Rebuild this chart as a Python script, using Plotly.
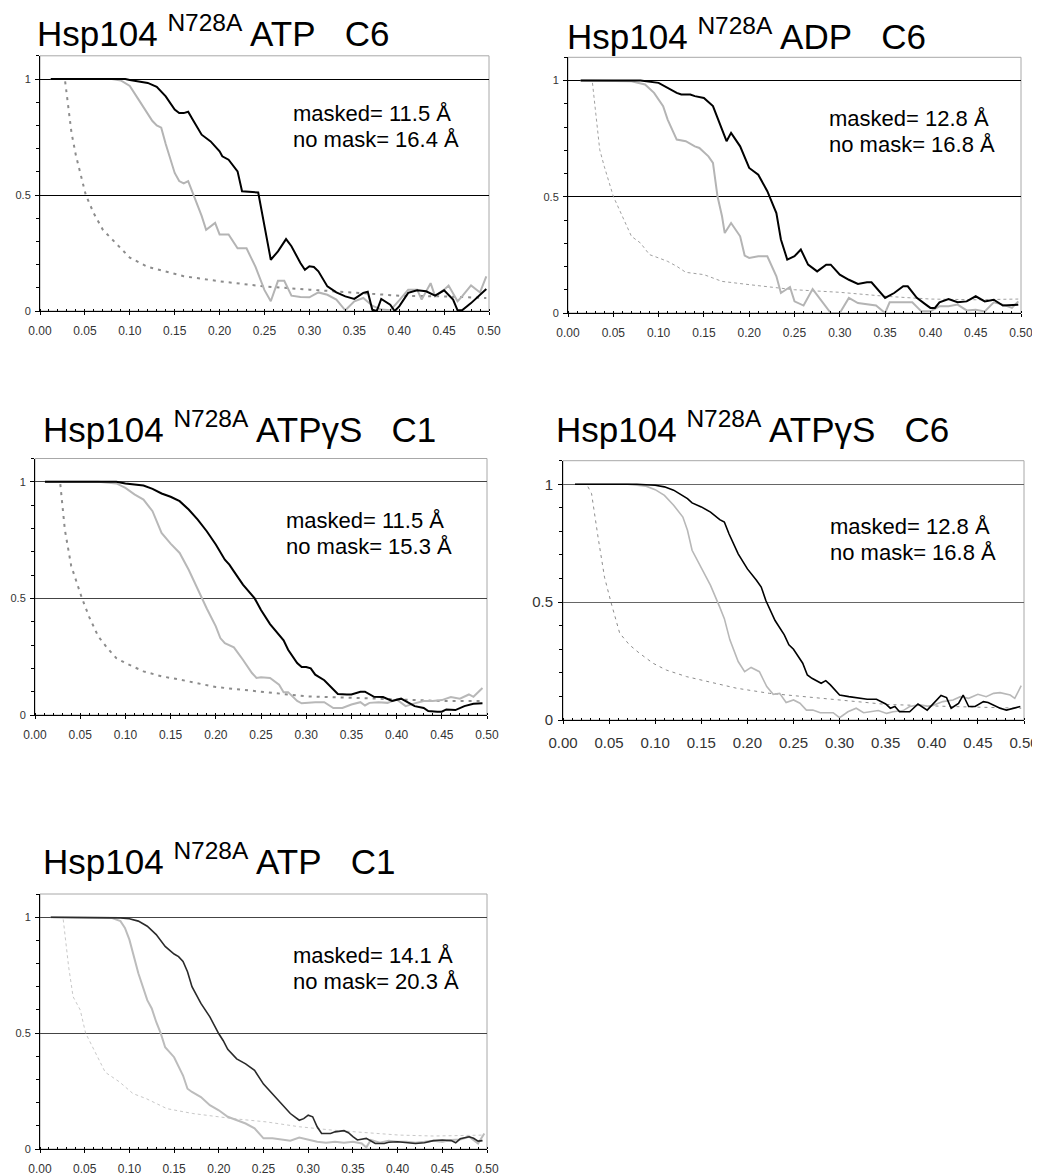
import plotly.graph_objects as go

# page has an 8px body margin: figure is placed at (8, 8) inside the 1040x1175 window
OFF = 8
W, H = 1040 - OFF, 1175 - OFF

# ---------------- data ----------------
titles = ["Hsp104 <sup>N728A</sup> ATP\u00a0\u00a0\u00a0C6",
          "Hsp104 <sup>N728A</sup> ADP\u00a0\u00a0\u00a0C6",
          "Hsp104 <sup>N728A</sup> ATP\u03b3S\u00a0\u00a0\u00a0C1",
          "Hsp104 <sup>N728A</sup> ATP\u03b3S\u00a0\u00a0\u00a0C6",
          "Hsp104 <sup>N728A</sup> ATP\u00a0\u00a0\u00a0C1"]
masked_res = ["11.5", "12.8", "11.5", "12.8", "14.1"]
nomask_res = ["16.4", "16.8", "15.3", "16.8", "20.3"]
x_ticks = [0.00, 0.05, 0.10, 0.15, 0.20, 0.25, 0.30, 0.35, 0.40, 0.45, 0.50]
y_ticks = [0, 0.5, 1]

# Panel 1: ATP C6
p1_black_x = [0.012,0.095,0.10,0.11,0.12,0.13,0.14,0.15,0.155,0.16,0.165,0.17,0.18,0.19,0.20,0.203,0.21,0.22,0.225,0.243,0.257,0.265,0.274,0.28,0.29,0.295,0.30,0.305,0.31,0.32,0.33,0.34,0.35,0.36,0.365,0.37,0.375,0.38,0.39,0.395,0.40,0.41,0.42,0.43,0.44,0.45,0.46,0.465,0.47,0.48,0.49,0.497]
p1_black_y = [1.0,1.0,0.996,0.99,0.983,0.966,0.925,0.868,0.853,0.853,0.859,0.825,0.76,0.731,0.688,0.667,0.652,0.602,0.516,0.511,0.221,0.257,0.31,0.279,0.207,0.178,0.193,0.19,0.171,0.106,0.08,0.063,0.052,0.078,0.083,0.006,0.0,0.052,0.027,0.0,0.02,0.078,0.089,0.085,0.066,0.089,0.049,0.003,0.003,0.034,0.07,0.095]
p1_grey_x = [0.012,0.08,0.09,0.10,0.11,0.12,0.125,0.13,0.135,0.14,0.145,0.15,0.155,0.16,0.165,0.17,0.175,0.18,0.185,0.195,0.20,0.21,0.22,0.23,0.235,0.24,0.25,0.257,0.265,0.272,0.28,0.29,0.30,0.31,0.32,0.33,0.34,0.35,0.36,0.37,0.38,0.39,0.40,0.41,0.42,0.425,0.435,0.44,0.45,0.455,0.465,0.47,0.48,0.49,0.497]
p1_grey_y = [1.0,1.0,0.994,0.97,0.91,0.853,0.82,0.80,0.79,0.72,0.66,0.595,0.56,0.55,0.56,0.51,0.46,0.41,0.35,0.38,0.33,0.33,0.27,0.27,0.23,0.19,0.09,0.042,0.13,0.13,0.066,0.06,0.059,0.08,0.07,0.049,0.003,0.042,0.056,0.023,0.006,0.003,0.046,0.092,0.092,0.049,0.12,0.063,0.092,0.11,0.042,0.063,0.11,0.08,0.149]
p1_thr_x = [0.028,0.035,0.04,0.051,0.06,0.07,0.08,0.09,0.10,0.12,0.14,0.16,0.20,0.25,0.30,0.35,0.40,0.45,0.497]
p1_thr_y = [0.99,0.77,0.67,0.5,0.42,0.35,0.31,0.27,0.23,0.19,0.17,0.15,0.128,0.106,0.092,0.08,0.066,0.063,0.056]

# Panel 2: ADP C6
p2_black_x = [0.014,0.08,0.10,0.11,0.12,0.125,0.135,0.14,0.15,0.16,0.165,0.175,0.18,0.19,0.20,0.21,0.22,0.225,0.23,0.235,0.242,0.25,0.257,0.265,0.275,0.285,0.29,0.30,0.31,0.32,0.33,0.335,0.345,0.35,0.36,0.37,0.375,0.385,0.395,0.40,0.405,0.41,0.42,0.43,0.44,0.45,0.46,0.47,0.48,0.49,0.497]
p2_black_y = [1.0,1.0,0.99,0.968,0.947,0.94,0.94,0.933,0.925,0.89,0.84,0.739,0.775,0.717,0.624,0.595,0.524,0.473,0.43,0.316,0.23,0.244,0.273,0.208,0.179,0.208,0.208,0.165,0.143,0.125,0.132,0.132,0.086,0.065,0.086,0.115,0.115,0.065,0.036,0.022,0.022,0.046,0.06,0.046,0.05,0.072,0.05,0.057,0.032,0.033,0.036]
p2_grey_x = [0.014,0.07,0.085,0.095,0.105,0.11,0.12,0.13,0.14,0.145,0.155,0.16,0.165,0.17,0.173,0.18,0.19,0.195,0.20,0.21,0.22,0.23,0.235,0.24,0.245,0.25,0.26,0.27,0.28,0.29,0.30,0.31,0.32,0.33,0.34,0.35,0.355,0.37,0.38,0.39,0.40,0.41,0.42,0.43,0.44,0.45,0.46,0.47,0.48,0.49,0.497]
p2_grey_y = [1.0,0.997,0.983,0.947,0.89,0.832,0.746,0.739,0.717,0.71,0.674,0.646,0.502,0.416,0.344,0.387,0.33,0.247,0.237,0.244,0.244,0.158,0.086,0.1,0.112,0.05,0.032,0.103,0.05,0.0,0.0,0.065,0.043,0.036,0.032,0.0,0.046,0.046,0.046,0.007,0.007,0.029,0.029,0.036,0.011,0.014,0.007,0.046,0.036,0.022,0.05]
p2_thr_x = [0.027,0.035,0.04,0.05,0.06,0.07,0.08,0.09,0.10,0.11,0.12,0.13,0.15,0.17,0.20,0.25,0.30,0.35,0.40,0.45,0.497]
p2_thr_y = [0.99,0.703,0.631,0.502,0.416,0.33,0.301,0.251,0.237,0.222,0.201,0.175,0.165,0.136,0.122,0.1,0.089,0.072,0.06,0.057,0.06]

# Panel 3: ATPgS C1
p3_black_x = [0.011,0.09,0.10,0.12,0.13,0.14,0.15,0.16,0.17,0.18,0.19,0.20,0.21,0.215,0.22,0.23,0.243,0.25,0.26,0.27,0.275,0.28,0.29,0.295,0.30,0.305,0.31,0.32,0.33,0.335,0.345,0.35,0.36,0.365,0.375,0.385,0.395,0.405,0.41,0.42,0.43,0.435,0.445,0.45,0.455,0.46,0.465,0.475,0.485,0.495]
p3_black_y = [1.0,1.0,0.993,0.984,0.97,0.95,0.936,0.917,0.881,0.838,0.788,0.731,0.666,0.645,0.616,0.559,0.5,0.45,0.39,0.344,0.32,0.28,0.223,0.206,0.206,0.2,0.173,0.149,0.11,0.09,0.088,0.088,0.1,0.1,0.078,0.077,0.06,0.07,0.06,0.038,0.03,0.017,0.014,0.014,0.024,0.021,0.021,0.038,0.048,0.05]
p3_grey_x = [0.011,0.07,0.09,0.10,0.11,0.12,0.13,0.14,0.15,0.16,0.17,0.18,0.185,0.19,0.20,0.205,0.21,0.22,0.23,0.24,0.245,0.25,0.26,0.27,0.275,0.28,0.29,0.295,0.31,0.32,0.33,0.34,0.35,0.36,0.365,0.37,0.38,0.39,0.40,0.41,0.42,0.43,0.44,0.45,0.46,0.47,0.48,0.485,0.495]
p3_grey_y = [1.0,1.0,0.993,0.974,0.946,0.924,0.874,0.781,0.735,0.695,0.623,0.537,0.5,0.457,0.38,0.33,0.308,0.29,0.237,0.18,0.159,0.162,0.159,0.13,0.098,0.098,0.06,0.05,0.055,0.055,0.03,0.03,0.045,0.055,0.041,0.052,0.055,0.052,0.067,0.038,0.05,0.06,0.06,0.064,0.077,0.07,0.088,0.078,0.116]
p3_thr_x = [0.028,0.033,0.04,0.052,0.06,0.07,0.08,0.09,0.10,0.12,0.14,0.16,0.20,0.25,0.30,0.35,0.40,0.45,0.495]
p3_thr_y = [0.99,0.795,0.64,0.5,0.42,0.337,0.287,0.244,0.223,0.187,0.166,0.152,0.12,0.10,0.08,0.074,0.067,0.06,0.06]

# Panel 4: ATPgS C6
p4_black_x = [0.013,0.08,0.10,0.11,0.12,0.13,0.135,0.14,0.15,0.16,0.17,0.175,0.18,0.19,0.20,0.21,0.215,0.22,0.23,0.24,0.245,0.25,0.26,0.265,0.27,0.28,0.285,0.29,0.30,0.31,0.32,0.33,0.34,0.35,0.355,0.36,0.365,0.376,0.385,0.395,0.41,0.416,0.421,0.429,0.434,0.44,0.447,0.456,0.461,0.474,0.481,0.488,0.496]
p4_black_y = [1.0,1.0,0.996,0.989,0.975,0.953,0.939,0.921,0.904,0.882,0.85,0.84,0.79,0.705,0.641,0.592,0.564,0.507,0.422,0.361,0.319,0.3,0.241,0.191,0.177,0.156,0.167,0.149,0.106,0.099,0.092,0.088,0.088,0.068,0.05,0.057,0.035,0.035,0.068,0.042,0.104,0.095,0.05,0.07,0.106,0.057,0.057,0.078,0.074,0.05,0.042,0.05,0.057]
p4_grey_x = [0.013,0.07,0.09,0.10,0.11,0.12,0.13,0.135,0.14,0.145,0.15,0.16,0.17,0.175,0.181,0.19,0.197,0.204,0.213,0.221,0.228,0.235,0.242,0.25,0.257,0.264,0.271,0.279,0.293,0.30,0.309,0.318,0.326,0.333,0.342,0.351,0.358,0.369,0.376,0.387,0.398,0.412,0.423,0.431,0.44,0.45,0.459,0.467,0.474,0.485,0.49,0.497]
p4_grey_y = [1.0,1.0,0.992,0.977,0.953,0.911,0.861,0.805,0.72,0.684,0.649,0.571,0.479,0.43,0.34,0.248,0.205,0.223,0.205,0.142,0.109,0.113,0.074,0.085,0.071,0.042,0.042,0.031,0.031,0.01,0.035,0.05,0.031,0.035,0.04,0.028,0.035,0.04,0.057,0.064,0.057,0.078,0.085,0.099,0.092,0.109,0.099,0.113,0.116,0.106,0.092,0.146]
p4_thr_x = [0.027,0.031,0.038,0.045,0.052,0.0615,0.072,0.083,0.098,0.112,0.134,0.156,0.188,0.224,0.279,0.351,0.423,0.497]
p4_thr_y = [0.99,0.96,0.776,0.606,0.5,0.368,0.319,0.283,0.24,0.212,0.184,0.163,0.135,0.113,0.092,0.066,0.057,0.05]

# Panel 5: ATP C1
p5_black_x = [0.012,0.08,0.09,0.10,0.11,0.12,0.13,0.14,0.15,0.155,0.16,0.165,0.17,0.18,0.19,0.20,0.205,0.21,0.22,0.23,0.24,0.25,0.26,0.27,0.28,0.29,0.295,0.30,0.305,0.31,0.315,0.325,0.33,0.34,0.345,0.35,0.355,0.365,0.37,0.375,0.385,0.39,0.40,0.41,0.42,0.43,0.44,0.45,0.46,0.465,0.47,0.48,0.485,0.49,0.495]
p5_black_y = [1.0,1.0,0.997,0.993,0.983,0.961,0.925,0.874,0.841,0.83,0.809,0.765,0.7,0.628,0.57,0.497,0.467,0.43,0.389,0.367,0.339,0.28,0.239,0.196,0.153,0.124,0.131,0.146,0.139,0.096,0.067,0.067,0.074,0.079,0.07,0.053,0.039,0.046,0.036,0.024,0.024,0.029,0.031,0.027,0.024,0.027,0.036,0.039,0.036,0.027,0.044,0.053,0.046,0.034,0.036]
p5_grey_x = [0.012,0.08,0.09,0.095,0.10,0.105,0.11,0.12,0.125,0.13,0.135,0.14,0.15,0.16,0.165,0.17,0.18,0.19,0.20,0.21,0.22,0.23,0.24,0.25,0.26,0.27,0.28,0.29,0.30,0.31,0.32,0.33,0.34,0.35,0.36,0.365,0.37,0.38,0.39,0.40,0.41,0.42,0.43,0.44,0.45,0.46,0.47,0.48,0.49,0.497]
p5_grey_y = [1.0,0.997,0.983,0.954,0.903,0.83,0.758,0.642,0.606,0.548,0.5,0.439,0.396,0.317,0.26,0.246,0.224,0.189,0.167,0.139,0.124,0.11,0.089,0.046,0.046,0.041,0.036,0.049,0.041,0.031,0.027,0.031,0.027,0.031,0.024,0.007,0.039,0.027,0.036,0.031,0.031,0.027,0.031,0.036,0.031,0.039,0.041,0.053,0.024,0.067]
p5_thr_x = [0.026,0.032,0.037,0.045,0.051,0.063,0.073,0.089,0.104,0.119,0.142,0.171,0.216,0.253,0.29,0.328,0.365,0.402,0.44,0.497]
p5_thr_y = [0.99,0.787,0.657,0.6,0.5,0.41,0.331,0.289,0.239,0.217,0.174,0.153,0.131,0.117,0.096,0.081,0.07,0.06,0.056,0.06]

# ---------------- layout / style (pixel geometry in window coords) ----------------
panels = [
    dict(bx=p1_black_x, by=p1_black_y, gx=p1_grey_x, gy=p1_grey_y, tx=p1_thr_x, ty=p1_thr_y,
         box=(40, 489, 55.8, 311), title_xy=(35, 55), anno_xy=(291, 123),
         black="#000000", bw=2, grey="#b4b4b4", gw=2, thr="#8c8c8c", tw=2, tdash="3px,5px",
         grid="#000000", xfs=12, yfs=11),
    dict(bx=p2_black_x, by=p2_black_y, gx=p2_grey_x, gy=p2_grey_y, tx=p2_thr_x, ty=p2_thr_y,
         box=(568, 1021, 57.3, 313), title_xy=(565, 58), anno_xy=(827, 128),
         black="#000000", bw=2, grey="#b4b4b4", gw=2, thr="#a0a0a0", tw=1, tdash="3px,3px",
         grid="#000000", xfs=12, yfs=11),
    dict(bx=p3_black_x, by=p3_black_y, gx=p3_grey_x, gy=p3_grey_y, tx=p3_thr_x, ty=p3_thr_y,
         box=(35, 487, 458.5, 715), title_xy=(41, 451), anno_xy=(284, 530),
         black="#000000", bw=2, grey="#b8b8b8", gw=2, thr="#8c8c8c", tw=2, tdash="3px,5px",
         grid="#444444", xfs=12, yfs=11),
    dict(bx=p4_black_x, by=p4_black_y, gx=p4_grey_x, gy=p4_grey_y, tx=p4_thr_x, ty=p4_thr_y,
         box=(563, 1024, 460.7, 720), title_xy=(554, 451), anno_xy=(828, 536),
         black="#000000", bw=1.6, grey="#b8b8b8", gw=1.6, thr="#8c8c8c", tw=1, tdash="3px,4px",
         grid="#666666", xfs=15, yfs=15),
    dict(bx=p5_black_x, by=p5_black_y, gx=p5_grey_x, gy=p5_grey_y, tx=p5_thr_x, ty=p5_thr_y,
         box=(40, 487, 894, 1149), title_xy=(41, 883), anno_xy=(291, 965),
         black="#2a2a2a", bw=1.6, grey="#bcbcbc", gw=2, thr="#c8c8c8", tw=1, tdash="3px,3px",
         grid="#444444", xfs=12, yfs=11),
]


def px(x):
    return (x - OFF) / W


def py(y):
    return 1 - (y - OFF) / H


FONT = "Liberation Sans, Arial, sans-serif"

fig = go.Figure()
layout = dict(width=W, height=H, margin=dict(l=0, r=0, t=0, b=0, autoexpand=False),
              paper_bgcolor="white", plot_bgcolor="rgba(0,0,0,0)",
              showlegend=False, annotations=[], shapes=[])

for i, p in enumerate(panels):
    n = "" if i == 0 else str(i + 1)
    xa, ya = "x" + n, "y" + n
    fig.add_trace(go.Scatter(x=p["tx"], y=p["ty"], mode="lines", xaxis=xa, yaxis=ya,
                             line=dict(color=p["thr"], width=p["tw"], dash=p["tdash"])))
    fig.add_trace(go.Scatter(x=p["gx"], y=p["gy"], mode="lines", xaxis=xa, yaxis=ya,
                             line=dict(color=p["grey"], width=p["gw"])))
    fig.add_trace(go.Scatter(x=p["bx"], y=p["by"], mode="lines", xaxis=xa, yaxis=ya,
                             line=dict(color=p["black"], width=p["bw"])))

    x0, x1, ytop, ybot = p["box"]
    layout["xaxis" + n] = dict(
        domain=[px(x0), px(x1)], anchor=ya, range=[0, 0.5], automargin=False,
        tickmode="array", tickvals=x_ticks, ticktext=["%.2f" % v for v in x_ticks],
        ticks="outside", ticklen=3, tickcolor="#000", tickwidth=1,
        minor=dict(dtick=0.01, tick0=0, ticks="inside", ticklen=2, tickcolor="#000", showgrid=False),
        showline=True, linecolor="#000", linewidth=1, showgrid=False, zeroline=False,
        tickfont=dict(family=FONT, size=p["xfs"], color="#333"), ticklabelstandoff=6,
        fixedrange=True)
    layout["yaxis" + n] = dict(
        domain=[py(ybot), py(ytop)], anchor=xa, range=[0, 1.1], automargin=False,
        tickmode="array", tickvals=y_ticks, ticktext=["0", "0.5", "1"],
        ticks="outside", ticklen=4, tickcolor="#000", tickwidth=1,
        minor=dict(dtick=0.1, tick0=0, ticks="outside", ticklen=3, tickcolor="#000", showgrid=False),
        showline=True, linecolor="#000", linewidth=1,
        showgrid=True, gridcolor=p["grid"], gridwidth=1, zeroline=False,
        tickfont=dict(family=FONT, size=p["yfs"], color="#333"), ticklabelstandoff=2,
        fixedrange=True)
    layout["shapes"].append(dict(type="rect", xref=xa + " domain", yref=ya + " domain",
                                 x0=0, x1=1, y0=0, y1=1, layer="below",
                                 line=dict(color="#a8a8a8", width=1)))
    tx, tyb = p["title_xy"]
    layout["annotations"].append(dict(
        text=titles[i], xref="paper", yref="paper", x=px(tx), y=py(tyb),
        xanchor="left", yanchor="bottom", showarrow=False,
        font=dict(family=FONT, size=35, color="#000")))
    ax_, ay_ = p["anno_xy"]
    for k, line in enumerate(["masked= %s \u00c5" % masked_res[i], "no mask= %s \u00c5" % nomask_res[i]]):
        base = ay_ + k * 26
        layout["annotations"].append(dict(
            text=line, xref="paper", yref="paper", x=px(ax_), y=py(base + 5),
            xanchor="left", yanchor="bottom", showarrow=False,
            font=dict(family=FONT, size=22, color="#000")))

fig.update_layout(**layout)
fig.write_html("out.html")
